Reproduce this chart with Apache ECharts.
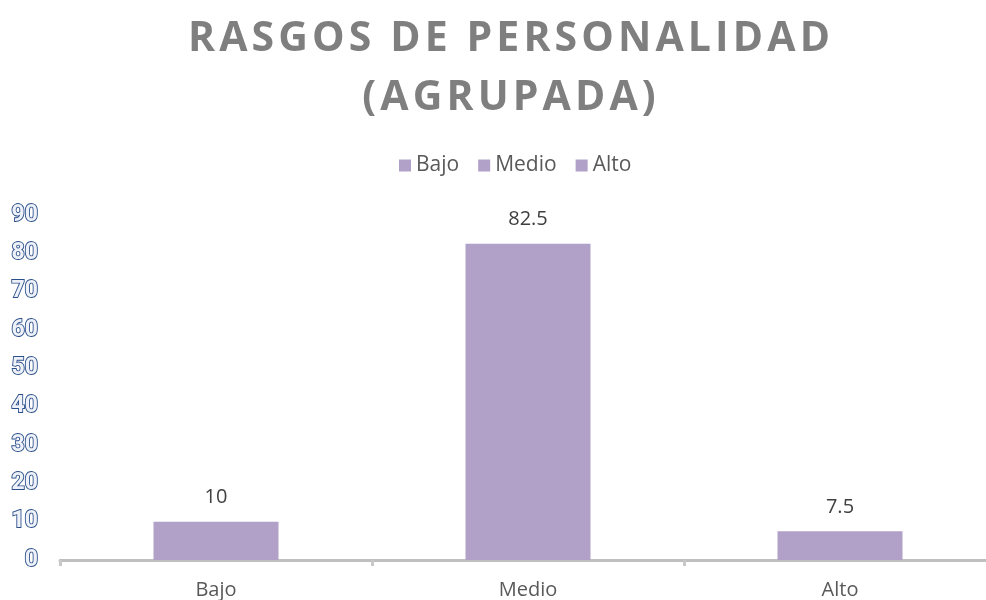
<!DOCTYPE html>
<html>
<head>
<meta charset="utf-8">
<script src="https://cdn.jsdelivr.net/npm/echarts@6/dist/echarts.min.js"></script>
<style>
  html, body { margin: 0; padding: 0; background: #fff; }
  #main { width: 986px; height: 600px; }
</style>
</head>
<body>
<div id="main"></div>
<script>
// datos
var categorias = ['Bajo', 'Medio', 'Alto'];
var valores = [10, 82.5, 7.5];
var titulo = ['RASGOS DE PERSONALIDAD', '(AGRUPADA)'];

function espaciar(txt){
    return txt.split('').join('\u200A');
}

function showchart(){
    var myChart = echarts.init(document.getElementById('main'));
    var series = categorias.map(function(cat, i){
        var d = categorias.map(function(c, j){ return j === i ? valores[i] : '-'; });
        return {
            name: cat, type: 'bar', stack: 'total', barWidth: 125, data: d,
            itemStyle: { color: '#b1a0c7' },
            label: { show: true, position: 'top', distance: 14, fontSize: 20, color: '#404040', fontFamily: 'Open Sans' }
        };
    });

    var option = {
        animation: false,
        title: {
            text: titulo.map(espaciar).join('\n'), left: 504, top: 5, textAlign: 'center',
            textStyle: { fontSize: 41, fontWeight: 'bold', color: '#7f7f7f', lineHeight: 59, fontFamily: 'Open Sans' }
        },
        legend: {
            top: 150, left: 394, itemWidth: 12, itemHeight: 12, itemGap: 19,
            icon: 'rect', data: categorias,
            textStyle: { fontSize: 21, color: '#595959', fontFamily: 'Open Sans' }
        },
        grid: { left: 60, width: 936, top: 215, bottom: 40, outerBoundsMode: 'none' },
        xAxis: {
            type: 'category', data: categorias,
            axisLine: { lineStyle: { color: '#bfbfbf', width: 3 } },
            axisTick: { show: true, length: 6, lineStyle: { color: '#c8c8c8', width: 3 } },
            axisLabel: { fontSize: 20, color: '#595959', margin: 20, fontFamily: 'Open Sans' }
        },
        yAxis: {
            type: 'value', min: 0, max: 90, interval: 10,
            axisLine: { show: false }, axisTick: { show: false },
            splitLine: { show: false },
            axisLabel: {
                fontSize: 23, fontWeight: 'bold', color: '#eef2f8', margin: 22,
                textBorderColor: '#2b4f8a', textBorderWidth: 1.8, fontFamily: 'Roboto'
            }
        },
        series: series
    };
    myChart.setOption(option);
}
showchart();
</script>
</body>
</html>
